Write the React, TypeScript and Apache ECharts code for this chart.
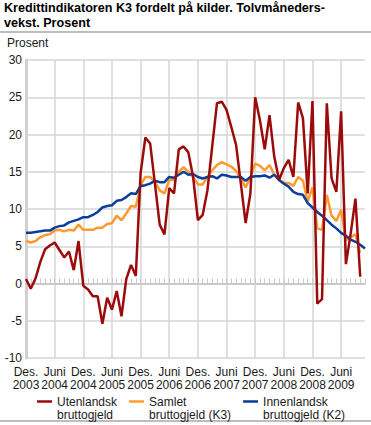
import React, { useEffect, useRef } from "react";
import * as echarts from "echarts";

const monthNames = ["Des.", "Jan.", "Feb.", "Mars", "April", "Mai", "Juni", "Juli", "Aug.", "Sep.", "Okt.", "Nov."];
const startYear = 2003;
const categories: string[] = [];
for (let i = 0; i < 72; i++) {
  const y = startYear + Math.floor((i + 11) / 12);
  categories.push(monthNames[i % 12] + " " + y);
}

const tickLabels = [
  "Des.\n2003", "Juni\n2004", "Des.\n2004", "Juni\n2005", "Des.\n2005", "Juni\n2006",
  "Des.\n2006", "Juni\n2007", "Des.\n2007", "Juni\n2008", "Des.\n2008", "Juni\n2009",
];

const utenlandsk = [
  0.6, -0.7, 0.7, 2.9, 4.6, 5.1, 5.5, 4.5, 3.5, 4.3, 1.8, 5.7,
  -0.3, -0.8, -1.7, -1.7, -5.4, -1.9, -3.5, -1.0, -4.4, 0.6, 2.5, 1.0,
  14.8, 19.6, 18.8, 13.4, 7.9, 6.6, 12.8, 12.1, 18.0, 18.4, 17.6, 14.3,
  8.5, 9.2, 12.5, 18.4, 24.2, 24.4, 23.3, 21.0, 18.6, 13.4, 8.1, 12.1,
  25.0, 21.9, 18.0, 22.6, 17.0, 13.9, 15.5, 16.6, 14.3, 24.3, 22.2, 12.1,
  24.5, -2.7, -2.1, 24.2, 14.1, 12.3, 23.1, 2.6, 6.7, 11.4, 0.9,
];

const samlet = [
  5.7, 5.5, 5.7, 6.2, 6.5, 6.6, 7.1, 7.2, 7.0, 7.2, 7.1, 7.9,
  7.2, 7.2, 7.2, 7.5, 7.5, 8.0, 8.1, 9.1, 8.5, 9.4, 10.4, 10.3,
  13.2, 14.3, 14.3, 13.7, 12.5, 12.1, 13.9, 13.9, 15.0, 15.6, 15.0, 14.3,
  13.3, 13.3, 14.3, 15.2, 15.9, 16.3, 16.0, 15.7, 15.1, 14.1, 12.9, 14.3,
  16.1, 15.8, 15.2, 15.9, 14.6, 13.9, 13.5, 13.5, 13.1, 14.3, 13.8, 11.0,
  12.9, 7.4, 7.2, 11.9, 9.1, 8.4, 9.9, 5.8, 6.2, 6.6, 4.1,
];

const innenlandsk = [
  6.8, 6.8, 6.9, 7.0, 7.1, 7.1, 7.5, 7.7, 7.8, 8.2, 8.4, 8.6,
  8.9, 8.9, 9.2, 9.6, 10.2, 10.4, 10.5, 11.1, 11.2, 11.6, 12.1, 12.0,
  13.1, 13.2, 13.4, 13.8, 13.6, 13.6, 14.3, 14.2, 14.6, 15.0, 14.6, 14.7,
  14.3, 14.1, 14.3, 14.4, 14.1, 14.6, 14.5, 14.3, 14.3, 14.3, 13.8, 14.3,
  14.4, 14.4, 14.5, 14.2, 14.6, 13.9, 13.4, 13.0, 12.3, 12.0, 11.9, 10.8,
  10.2, 9.6, 9.1, 8.5, 7.9, 7.4, 6.8, 6.4, 5.9, 5.6, 5.2, 4.7,
];

const seriesNames = [
  "Utenlandsk\nbruttogjeld",
  "Samlet\nbruttogjeld (K3)",
  "Innenlandsk\nbruttogjeld (K2)",
];

const FONT = "'Liberation Sans', Arial, sans-serif";
const RED = "#9c0b0b";
const ORANGE = "#ff9a30";
const BLUE = "#0c3d9a";
const GRID = "#d6d6d6";
// legend icon: a short line near the top of a 15x26 box (invisible points pin the box)
const LEGEND_ICON = "path://M0,0L0.01,0M0,5.25L15,5.25L15,7.75L0,7.75ZM0,26L0.01,26";

export default function App() {
  const ref = useRef<HTMLDivElement>(null);
  useEffect(() => {
    if (!ref.current) return;
    document.body.style.margin = "0";
    const chart = echarts.init(ref.current, null, { renderer: "svg" });
    chart.setOption({
      animation: false,
      textStyle: { fontFamily: FONT },
      title: {
        text: "Kredittindikatoren K3 fordelt på kilder. Tolvmåneders-\nvekst. Prosent",
        left: 4,
        top: 1,
        padding: 0,
        textStyle: { fontFamily: FONT, fontSize: 12.6, fontWeight: "bold", color: "#000", lineHeight: 14.5 },
      },
      graphic: [
        { type: "line", shape: { x1: 0, y1: 32, x2: 371, y2: 32 }, style: { stroke: "#bdbdbd", lineWidth: 2 } },
        { type: "line", shape: { x1: 0, y1: 421, x2: 371, y2: 421 }, style: { stroke: "#bdbdbd", lineWidth: 2 } },
        { type: "text", left: 7, top: 37, style: { text: "Prosent", fontFamily: FONT, fontSize: 12, fill: "#1a1a1a" } },
      ],
      legend: {
        left: 37,
        top: 395,
        padding: 0,
        icon: LEGEND_ICON,
        itemWidth: 15,
        itemHeight: 26,
        itemGap: 12,
        data: seriesNames,
        itemStyle: { borderWidth: 0 },
        textStyle: { fontFamily: FONT, fontSize: 12, color: "#1a1a1a", lineHeight: 13 },
      },
      grid: { left: 26, right: 6, top: 60, bottom: 67, containLabel: false },
      xAxis: [
        {
          type: "category",
          data: categories,
          boundaryGap: false,
          position: "bottom",
          axisLine: { show: false, onZero: false },
          axisTick: { show: false },
          axisLabel: {
            interval: 5,
            fontFamily: FONT,
            fontSize: 12,
            lineHeight: 12.5,
            color: "#1a1a1a",
            margin: 8,
            formatter: (_v: string, i: number) => (i % 6 === 0 ? tickLabels[i / 6] : ""),
          },
          splitLine: {
            show: true,
            interval: (i: number) => i % 6 === 0,
            lineStyle: { color: GRID, width: 1.5 },
          },
        },
        {
          type: "category",
          data: categories,
          boundaryGap: false,
          position: "bottom",
          axisLine: { show: true, onZero: true, onZeroAxisIndex: 0, lineStyle: { color: "#c8c8c8", width: 2 } },
          axisTick: { show: true, inside: true, length: 5, interval: 0, lineStyle: { color: "#c8c8c8", width: 1 } },
          axisLabel: { show: false },
          splitLine: { show: false },
        },
      ],
      yAxis: {
        type: "value",
        min: -10,
        max: 30,
        interval: 5,
        axisLine: { show: true, onZero: false, lineStyle: { color: "#d0d0d0", width: 3 } },
        axisTick: { show: false },
        axisLabel: { fontFamily: FONT, fontSize: 12, color: "#1a1a1a", margin: 4 },
        splitLine: { show: true, lineStyle: { color: GRID, width: 1.5 } },
      },
      series: [
        {
          name: seriesNames[1],
          type: "line",
          data: samlet,
          symbol: "none",
          lineStyle: { color: ORANGE, width: 2.5 },
          itemStyle: { color: ORANGE },
          z: 2,
        },
        {
          name: seriesNames[2],
          type: "line",
          data: innenlandsk,
          symbol: "none",
          lineStyle: { color: BLUE, width: 2.5 },
          itemStyle: { color: BLUE },
          z: 3,
        },
        {
          name: seriesNames[0],
          type: "line",
          data: utenlandsk,
          symbol: "none",
          lineStyle: { color: RED, width: 2.5 },
          itemStyle: { color: RED },
          z: 4,
        },
      ],
    });
    return () => chart.dispose();
  }, []);
  return <div ref={ref} style={{ width: 371, height: 425 }} />;
}
